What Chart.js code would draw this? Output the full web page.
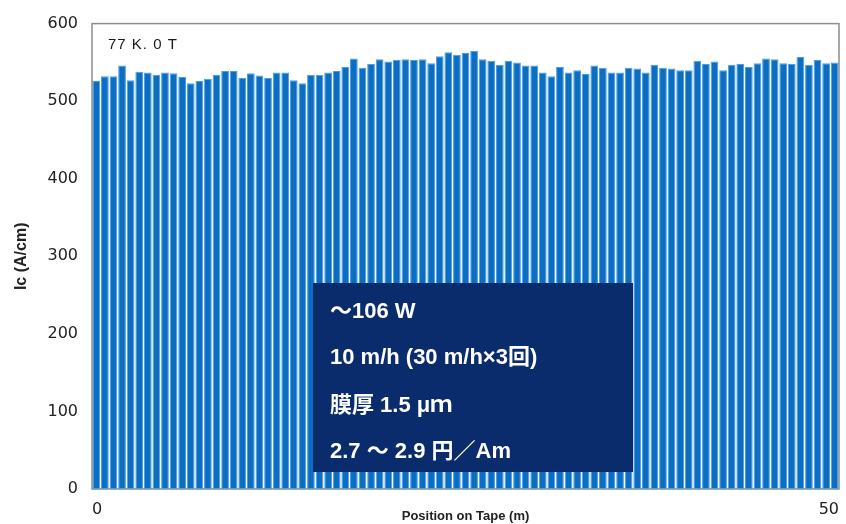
<!DOCTYPE html>
<html>
<head>
<meta charset="utf-8">
<script src="https://cdn.jsdelivr.net/npm/chart.js@4"></script>
<style>
  body { margin: 0; background: #fff; }
  #wrap { width: 846px; height: 524px; }
</style>
</head>
<body>
<div id="wrap"><canvas id="icChart"></canvas></div>
<script>
// Ic per segment along the tape (A/cm)
const icValues = [
    526, 532, 532, 546, 527, 538, 537, 534, 537, 536,
    531, 523, 526, 529, 534, 539, 539, 530, 536, 533,
    530, 537, 537, 527, 523, 534, 534, 537, 539, 544,
    555, 543, 548, 554, 551, 553, 554, 553, 554, 549,
    558, 563, 560, 562, 565, 554, 552, 547, 552, 550,
    546, 546, 537, 532, 544, 537, 540, 535, 546, 543,
    537, 537, 543, 542, 537, 547, 543, 542, 540, 540,
    552, 548, 551, 540, 547, 548, 544, 549, 555, 554,
    549, 548, 557, 547, 553, 549, 550
];
const segments = icValues.map((v, i) => i + 1);
const positionTicks = [0, 50];
const yTicks = [0, 100, 200, 300, 400, 500, 600];
const conditionLabel = '77 K. 0 T';
const infoLines = ['～106 W', '10 m/h (30 m/h×3回)', '膜厚 1.5 μｍ', '2.7 ～ 2.9 円／Am'];

const latin = '"Liberation Sans", Arial, sans-serif';
const tickFont = '"DejaVu Sans", Verdana, sans-serif';

// frame round the plot, condition label, and the navy info box
const overlay = {
    id: 'overlay',
    beforeDatasetsDraw(chart) {
        const a = chart.chartArea;
        const ctx = chart.ctx;
        ctx.save();
        ctx.strokeStyle = '#8c8c8c';
        ctx.lineWidth = 1.5;
        ctx.strokeRect(a.left, a.top, a.right - a.left, a.bottom - a.top);
        ctx.restore();
    },
    afterDatasetsDraw(chart) {
        const a = chart.chartArea;
        const ctx = chart.ctx;
        ctx.save();
        ctx.fillStyle = '#1a1a1a';
        ctx.font = '15px ' + latin;
        ctx.letterSpacing = '1px';
        ctx.textBaseline = 'middle';
        ctx.fillText(conditionLabel, a.left + 16, a.top + 21);

        const x0 = 313, y0 = 283, w = 320, h = 189;
        ctx.fillStyle = '#0b2c6c';
        ctx.fillRect(x0, y0, w, h);
        ctx.fillStyle = '#ffffff';
        ctx.font = 'bold 22px "Liberation Sans", "Noto Sans CJK JP", sans-serif';
        ctx.letterSpacing = '0px';
        const lineY = [312, 358, 406, 452];
        infoLines.forEach((t, i) => ctx.fillText(t, x0 + 17, lineY[i]));
        ctx.restore();
    }
};

const ctx = document.getElementById('icChart').getContext('2d');

const icChart = new Chart(ctx, {
    type: 'bar',
    data: {
        labels: segments,
        datasets: [{
            data: icValues,
            backgroundColor: '#0b6ec3',
            borderColor: '#4a9fe4',
            borderWidth: 1,
            borderSkipped: false,
            barPercentage: 0.9,
            categoryPercentage: 1.0,
        }],
    },
    options: {
        responsive: true,
        maintainAspectRatio: false,
        animation: false,
        layout: { padding: { top: 16, right: 7, left: 0, bottom: 0 } },
        scales: {
            x: {
                display: false,
            },
            xPos: {
                type: 'linear',
                position: 'bottom',
                offset: false,
                min: 0,
                max: 50,
                grid: { display: false, drawTicks: false, offset: false },
                border: { display: false },
                afterBuildTicks: (scale) => {
                    scale.ticks = positionTicks.map(v => ({ value: v }));
                },
                afterFit: (scale) => {
                    scale.height = 35;
                    scale.paddingLeft = 0;
                    scale.paddingRight = 0;
                },
                ticks: {
                    padding: 11,
                    maxRotation: 0,
                    align: 'inner',
                    color: '#222',
                    font: { family: tickFont, size: 16 },
                },
                title: {
                    display: true,
                    text: 'Position on Tape (m)',
                    color: '#222',
                    padding: { top: 0, bottom: 0 },
                    font: { family: latin, size: 13, weight: 'bold' },
                },
            },
            y: {
                min: 0,
                max: 600,
                grid: { display: false, drawTicks: false },
                border: { display: false },
                afterBuildTicks: (scale) => {
                    scale.ticks = yTicks.map(v => ({ value: v }));
                },
                afterFit: (scale) => { scale.width = 92; },
                ticks: {
                    padding: 14,
                    color: '#222',
                    font: { family: tickFont, size: 16 },
                },
                title: {
                    display: true,
                    text: 'Ic (A/cm)',
                    color: '#222',
                    padding: { top: 12, bottom: 0 },
                    font: { family: latin, size: 16, weight: 'bold' },
                },
            },
        },
        plugins: {
            legend: { display: false },
            title: { display: false },
            tooltip: { enabled: false },
        },
    },
    plugins: [overlay],
});
</script>
</body>
</html>
